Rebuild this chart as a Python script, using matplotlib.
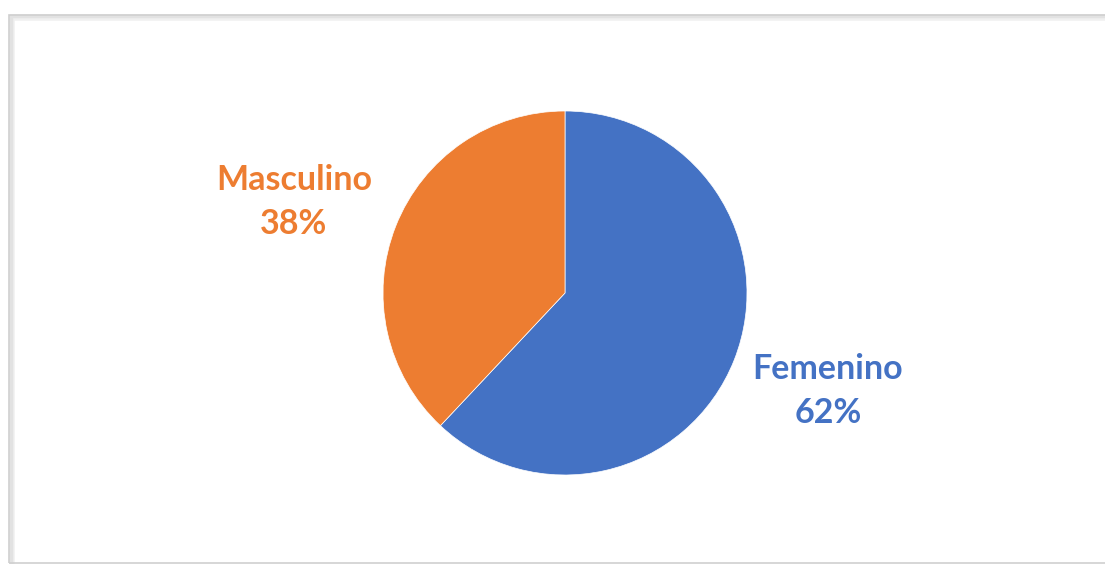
import matplotlib.pyplot as plt
from matplotlib.patches import Rectangle

# datos
categorias = ['Femenino', 'Masculino']
porcentajes = [62, 38]
colores = ['#4472C4', '#ED7D31']

W, H = 1105, 564
fig = plt.figure(figsize=(W / 100, H / 100), dpi=100)
fig.patch.set_facecolor('white')

ax = fig.add_axes([0, 0, 1, 1])

centro = (565, H - 293)
radio = 182
wedges, _ = ax.pie(porcentajes, colors=colores, startangle=90, counterclock=False,
                   radius=radio, center=centro, frame=True,
                   wedgeprops=dict(edgecolor='white', linewidth=0.5))
ax.set_xlim(0, W)
ax.set_ylim(0, H)
ax.set_aspect('equal')
ax.axis('off')

# marco con sombra suave
for off, col, lw in [(3, '#f0f0f0', 4), (1.5, '#e2e2e2', 2.5)]:
    ax.add_patch(Rectangle((9 + off, -20), W + 20, H - 14.5 + 20 - off,
                           fill=False, edgecolor=col, lw=lw, zorder=0))
ax.add_patch(Rectangle((9, 1.5), W + 20, H - 16, fill=False,
                       edgecolor='#cfcfcf', lw=1.2, zorder=1))

# etiquetas (posición en píxeles)
pos_etiquetas = [(828, H - 391), (294, H - 202)]
for cat, pct, col, (x, y) in zip(categorias, porcentajes, colores, pos_etiquetas):
    ax.text(x, y, f'{cat}\n{pct}%', color=col, fontsize=24.5, fontweight='bold',
            family='Lato', ha='center', va='center', linespacing=1.45)

fig.savefig('out.png', dpi=100)
